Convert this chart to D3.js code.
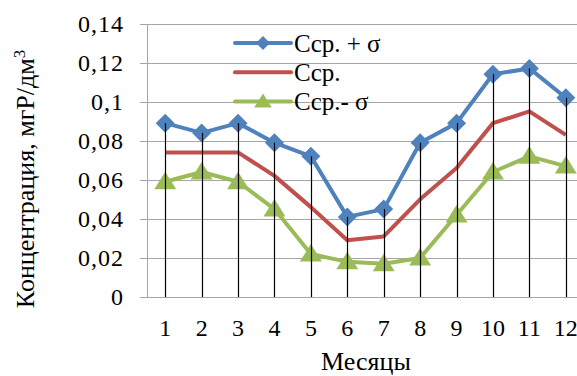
<!DOCTYPE html>
<html>
<head>
<meta charset="utf-8">
<script src="https://cdn.jsdelivr.net/npm/d3@7/dist/d3.min.js"></script>
<style>
  html, body { margin: 0; padding: 0; background: #fff; }
  svg { display: block; }
</style>
</head>
<body>
<svg id="chart" width="577" height="376"></svg>
<script>
// Monthly concentration: mean, mean + sigma, mean - sigma
const months = ["1","2","3","4","5","6","7","8","9","10","11","12"];
const upperValues = [0.089, 0.084, 0.089, 0.079, 0.072, 0.041, 0.045, 0.079, 0.089, 0.114, 0.117, 0.102];
const meanValues  = [0.074, 0.074, 0.074, 0.062, 0.046, 0.029, 0.031, 0.050, 0.066, 0.089, 0.095, 0.083];
const lowerValues = [0.059, 0.064, 0.059, 0.045, 0.022, 0.018, 0.017, 0.020, 0.042, 0.064, 0.072, 0.067];
const yTickValues = [0, 0.02, 0.04, 0.06, 0.08, 0.1, 0.12, 0.14];
const yTickLabels = ["0", "0,02", "0,04", "0,06", "0,08", "0,1", "0,12", "0,14"];
const seriesNames = ["Ccp. + σ", "Ccp.", "Ccp.- σ"];
const seriesColors = ["#4F81BD", "#C0504D", "#9BBB59"];
const seriesMarkers = ["diamond", "none", "triangle"];

const FONT = "'Liberation Serif', 'Times New Roman', serif";

const svg = d3.select("#chart");
const plot = { left: 147, right: 584, top: 23.5, bottom: 297 };

const x = d3.scaleBand().domain(months).range([plot.left, plot.right]);
const y = d3.scaleLinear().domain([0, 0.14]).range([plot.bottom, plot.top]);
const cx = m => x(m) + x.bandwidth() / 2;

const gridColor = "#a6a6a6";

// horizontal gridlines with small outward ticks
const yAxis = d3.axisLeft(y)
  .tickValues(yTickValues)
  .tickFormat((d, i) => yTickLabels[i])
  .tickSize(-(plot.right - plot.left))
  .tickPadding(23);
const gy = svg.append("g").attr("transform", `translate(${plot.left},0)`).call(yAxis);
gy.attr("font-family", null).attr("font-size", null);
gy.select(".domain").remove();
gy.selectAll(".tick line").attr("stroke", gridColor).attr("x1", -7).attr("shape-rendering", "crispEdges");
gy.selectAll(".tick text")
  .style("font-family", FONT).style("font-size", "24px").style("letter-spacing", "1px")
  .attr("fill", "#000").attr("dy", "0.33em");

// vertical axis line
svg.append("line")
  .attr("x1", plot.left).attr("x2", plot.left)
  .attr("y1", plot.top).attr("y2", plot.bottom)
  .attr("stroke", gridColor).attr("shape-rendering", "crispEdges");

// x axis category labels
const xAxis = d3.axisBottom(x).tickSize(0).tickPadding(22);
const gx = svg.append("g").attr("transform", `translate(0,${plot.bottom})`).call(xAxis);
gx.attr("font-family", null).attr("font-size", null);
gx.select(".domain").remove();
gx.selectAll(".tick text")
  .style("font-family", FONT).style("font-size", "24px").attr("fill", "#000");

// line series
const allSeries = [upperValues, meanValues, lowerValues];
const line = d3.line().x((d, i) => cx(months[i])).y(d => y(d));

const diamond = s => `M0,${-s}L${s},0L0,${s}L${-s},0Z`;
const triangle = s => `M0,${-s}L${s * 1.1},${s * 0.75}L${-s * 1.1},${s * 0.75}Z`;

[2, 1, 0].forEach(k => {
  svg.append("path")
    .datum(allSeries[k])
    .attr("d", line)
    .attr("fill", "none")
    .attr("stroke", seriesColors[k])
    .attr("stroke-width", 4)
    .attr("stroke-linejoin", "round");
});

// markers
[2, 0].forEach(k => {
  svg.append("g").selectAll("path")
    .data(allSeries[k])
    .join("path")
    .attr("transform", (d, i) => `translate(${cx(months[i])},${y(d)})`)
    .attr("d", seriesMarkers[k] === "diamond" ? diamond(9.5) : triangle(10))
    .attr("fill", seriesColors[k]);
});

// drop lines from the upper series down to the axis
svg.append("g").selectAll("line")
  .data(upperValues)
  .join("line")
  .attr("x1", (d, i) => Math.round(cx(months[i])) + 0.5)
  .attr("x2", (d, i) => Math.round(cx(months[i])) + 0.5)
  .attr("y1", d => y(d))
  .attr("y2", plot.bottom)
  .attr("stroke", "#000")
  .attr("stroke-width", 1.2);

// legend
const legend = svg.append("g").attr("transform", "translate(235,43)");
seriesNames.forEach((name, k) => {
  const g = legend.append("g").attr("transform", `translate(0,${k * 29.2})`);
  g.append("line").attr("x1", 0).attr("x2", 56).attr("y1", 0).attr("y2", 0)
    .attr("stroke", seriesColors[k]).attr("stroke-width", 4).attr("stroke-linecap", "round");
  if (seriesMarkers[k] === "diamond") {
    g.append("path").attr("transform", "translate(28,0)").attr("d", diamond(7)).attr("fill", seriesColors[k]);
  } else if (seriesMarkers[k] === "triangle") {
    g.append("path").attr("transform", "translate(28,0)").attr("d", triangle(8)).attr("fill", seriesColors[k]);
  }
  g.append("text").attr("x", 59).attr("y", 9)
    .style("font-family", FONT).style("font-size", "25px").attr("fill", "#000")
    .text(name);
});

// axis titles
svg.append("text")
  .attr("x", 366).attr("y", 370)
  .attr("text-anchor", "middle")
  .style("font-family", FONT).style("font-size", "26px").attr("fill", "#000")
  .text("Месяцы");

const yTitle = svg.append("text")
  .attr("transform", "translate(34,179) rotate(-90)")
  .attr("text-anchor", "middle")
  .style("font-family", FONT).style("font-size", "26px").attr("fill", "#000");
yTitle.append("tspan").text("Концентрация, мгР/дм");
yTitle.append("tspan").attr("dy", -9).style("font-size", "17px").text("3");
</script>
</body>
</html>
